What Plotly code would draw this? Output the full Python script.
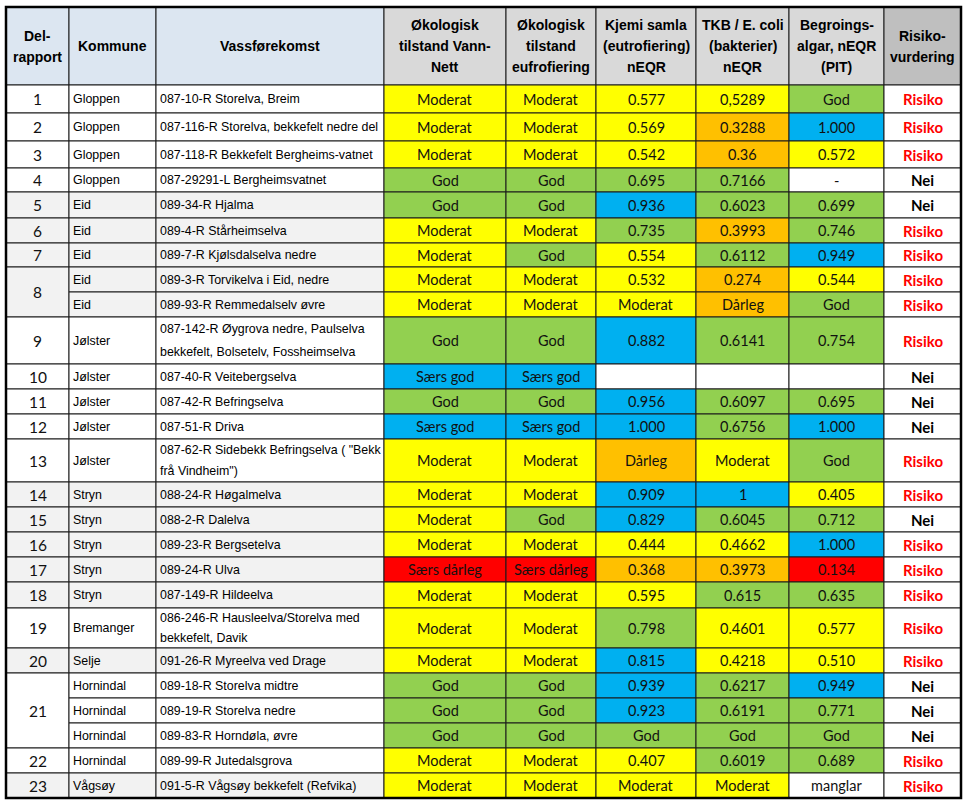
import plotly.graph_objects as go

# ---------------- data ----------------
headers = ["Del-\nrapport", "Kommune", "Vassførekomst",
           "Økologisk\ntilstand Vann-\nNett", "Økologisk\ntilstand\neufrofiering",
           "Kjemi samla\n(eutrofiering)\nnEQR", "TKB / E. coli\n(bakterier)\nnEQR",
           "Begroings-\nalgar, nEQR\n(PIT)", "Risiko-\nvurdering"]

delrapport = ["1", "2", "3", "4", "5", "6", "7", "8", "8", "9", "10", "11", "12", "13",
              "14", "15", "16", "17", "18", "19", "20", "21", "21", "21", "22", "23"]

kommune = ["Gloppen", "Gloppen", "Gloppen", "Gloppen", "Eid", "Eid", "Eid", "Eid", "Eid",
           "Jølster", "Jølster", "Jølster", "Jølster", "Jølster", "Stryn", "Stryn", "Stryn",
           "Stryn", "Stryn", "Bremanger", "Selje", "Hornindal", "Hornindal", "Hornindal",
           "Hornindal", "Vågsøy"]

vassforekomst = ["087-10-R Storelva, Breim",
                 "087-116-R Storelva, bekkefelt nedre del",
                 "087-118-R Bekkefelt Bergheims-vatnet",
                 "087-29291-L Bergheimsvatnet",
                 "089-34-R Hjalma",
                 "089-4-R Stårheimselva",
                 "089-7-R Kjølsdalselva nedre",
                 "089-3-R Torvikelva i Eid, nedre",
                 "089-93-R Remmedalselv øvre",
                 "087-142-R Øygrova nedre, Paulselva\nbekkefelt, Bolsetelv, Fossheimselva",
                 "087-40-R Veitebergselva",
                 "087-42-R Befringselva",
                 "087-51-R Driva",
                 "087-62-R Sidebekk Befringselva ( \"Bekk\nfrå Vindheim\")",
                 "088-24-R Høgalmelva",
                 "088-2-R Dalelva",
                 "089-23-R Bergsetelva",
                 "089-24-R Ulva",
                 "087-149-R Hildeelva",
                 "086-246-R Hausleelva/Storelva med\nbekkefelt, Davik",
                 "091-26-R Myreelva ved Drage",
                 "089-18-R Storelva midtre",
                 "089-19-R Storelva nedre",
                 "089-83-R Horndøla, øvre",
                 "089-99-R Jutedalsgrova",
                 "091-5-R Vågsøy bekkefelt (Refvika)"]

tilstand_vannnett = ["Moderat", "Moderat", "Moderat", "God", "God", "Moderat", "Moderat",
                     "Moderat", "Moderat", "God", "Særs god", "God", "Særs god", "Moderat",
                     "Moderat", "Moderat", "Moderat", "Særs dårleg", "Moderat", "Moderat",
                     "Moderat", "God", "God", "God", "Moderat", "Moderat"]

tilstand_eutro = ["Moderat", "Moderat", "Moderat", "God", "God", "Moderat", "God",
                  "Moderat", "Moderat", "God", "Særs god", "God", "Særs god", "Moderat",
                  "Moderat", "God", "Moderat", "Særs dårleg", "Moderat", "Moderat",
                  "Moderat", "God", "God", "God", "Moderat", "Moderat"]

kjemi = ["0.577", "0.569", "0.542", "0.695", "0.936", "0.735", "0.554", "0.532", "Moderat",
         "0.882", "", "0.956", "1.000", "Dårleg", "0.909", "0.829", "0.444", "0.368",
         "0.595", "0.798", "0.815", "0.939", "0.923", "God", "0.407", "Moderat"]

tkb = ["0,5289", "0.3288", "0.36", "0.7166", "0.6023", "0.3993", "0.6112", "0.274", "Dårleg",
       "0.6141", "", "0.6097", "0.6756", "Moderat", "1", "0.6045", "0.4662", "0.3973",
       "0.615", "0.4601", "0.4218", "0.6217", "0.6191", "God", "0.6019", "Moderat"]

begroing = ["God", "1.000", "0.572", "-", "0.699", "0.746", "0.949", "0.544", "God",
            "0.754", "", "0.695", "1.000", "God", "0.405", "0.712", "1.000", "0.134",
            "0.635", "0.577", "0.510", "0.949", "0.771", "God", "0.689", "manglar"]

risiko = ["Risiko", "Risiko", "Risiko", "Nei", "Nei", "Risiko", "Risiko", "Risiko", "Risiko",
          "Risiko", "Nei", "Nei", "Nei", "Risiko", "Risiko", "Nei", "Risiko", "Risiko",
          "Risiko", "Risiko", "Risiko", "Nei", "Nei", "Nei", "Risiko", "Risiko"]

# class codes per status column: Y=moderat, G=god, B=særs god, O=dårleg, R=særs dårleg, W=none
klasse_vannnett = ["Y","Y","Y","G","G","Y","Y","Y","Y","G","B","G","B","Y","Y","Y","Y","R","Y","Y","Y","G","G","G","Y","Y"]
klasse_eutro    = ["Y","Y","Y","G","G","Y","G","Y","Y","G","B","G","B","Y","Y","G","Y","R","Y","Y","Y","G","G","G","Y","Y"]
klasse_kjemi    = ["Y","Y","Y","G","B","G","Y","Y","Y","B","W","B","B","O","B","B","Y","O","Y","G","B","B","B","G","Y","Y"]
klasse_tkb      = ["Y","O","O","G","G","O","G","O","O","G","W","G","G","Y","B","G","Y","O","G","Y","Y","G","G","G","G","Y"]
klasse_begroing = ["G","B","Y","W","G","G","B","Y","G","G","W","G","B","G","Y","G","B","R","G","Y","Y","B","G","G","G","W"]

# kommune groups shaded light grey in the left columns
skuggelagt = [0,0,0,0,1,1,1,1,1,0,0,0,0,0,1,1,1,1,1,0,1,0,0,0,0,1]

# ---------------- layout constants ----------------
W, H = 970, 806
col_w = [63, 87, 228, 122, 90, 100, 93, 95, 77]
x0, y0 = 6, 7
header_h = 78
row_h = [28, 28, 27, 24, 26, 25, 24, 25, 25, 47, 25, 25, 25, 43, 25, 25, 25, 25, 26, 40,
         25, 25, 25, 25, 25, 25]

farge = {"Y": "#FFFF00", "G": "#92D050", "B": "#00B0F0", "O": "#FFC000",
         "R": "#FF0000", "W": "#FFFFFF"}
hdr_blue, hdr_grey, hdr_dark = "#DCE6F1", "#D9D9D9", "#BFBFBF"
grey_row = "#F2F2F2"
grid = "#1a1a1a"

col_x = [x0]
for w in col_w:
    col_x.append(col_x[-1] + w)
row_y = [y0 + header_h]
for h in row_h:
    row_y.append(row_y[-1] + h)

HDR_FONT = dict(family="Liberation Sans, Arial, sans-serif", size=14, color="#000000")
NARROW = dict(family="Liberation Sans, Arial, sans-serif", size=12.4, color="#000000")
CAL = dict(family="Lato, Carlito, Calibri, sans-serif", size=14.5, color="#111111")
RISK = dict(family="Lato, Carlito, Calibri, sans-serif", size=15, color="#000000")
NUM = dict(family="Lato, Carlito, Calibri, sans-serif", size=15.5, color="#111111")

shapes, annotations = [], []


def cell(xa, xb, ya, yb, fill):
    shapes.append(dict(type="rect", xref="x", yref="y", x0=xa, x1=xb, y0=ya, y1=yb,
                       fillcolor=fill, line=dict(color=grid, width=1), layer="below"))


def text(txt, xa, xb, ya, yb, font, align="center", bold=False, spacing=None):
    lines = txt.split("\n")
    n = len(lines)
    yc = (ya + yb) / 2
    for i, ln in enumerate(lines):
        if spacing is None:
            y = ya + (i + 0.5) * (yb - ya) / n
        else:
            y = yc + (i - (n - 1) / 2) * spacing
        s = "<b>%s</b>" % ln if bold else ln
        if align == "left":
            annotations.append(dict(x=xa + 2, y=y, xref="x", yref="y", text=s, showarrow=False,
                                    xanchor="left", yanchor="middle", font=font))
        else:
            annotations.append(dict(x=(xa + xb) / 2, y=y, xref="x", yref="y", text=s,
                                    showarrow=False, xanchor="center", yanchor="middle",
                                    font=font))


# header
for c, htxt in enumerate(headers):
    fill = hdr_blue if c < 3 else (hdr_dark if c == len(headers) - 1 else hdr_grey)
    cell(col_x[c], col_x[c + 1], y0, y0 + header_h, fill)
    text(htxt, col_x[c], col_x[c + 1], y0, y0 + header_h, HDR_FONT, bold=True, spacing=21)

# body
n = len(delrapport)
status_cols = [(tilstand_vannnett, klasse_vannnett), (tilstand_eutro, klasse_eutro),
               (kjemi, klasse_kjemi), (tkb, klasse_tkb), (begroing, klasse_begroing)]

# del-rapport column with merged cells
i = 0
while i < n:
    j = i
    while j + 1 < n and delrapport[j + 1] == delrapport[i]:
        j += 1
    fill = grey_row if skuggelagt[i] else "#FFFFFF"
    cell(col_x[0], col_x[1], row_y[i], row_y[j + 1], fill)
    text(delrapport[i], col_x[0], col_x[1], row_y[i], row_y[j + 1], NUM)
    i = j + 1

for r in range(n):
    ya, yb = row_y[r], row_y[r + 1]
    fill = grey_row if skuggelagt[r] else "#FFFFFF"
    cell(col_x[1], col_x[2], ya, yb, fill)
    text(kommune[r], col_x[1], col_x[2], ya, yb, NARROW, align="left", spacing=0)
    cell(col_x[2], col_x[3], ya, yb, fill)
    text(vassforekomst[r], col_x[2], col_x[3], ya, yb, NARROW, align="left")
    for k, (vals, kl) in enumerate(status_cols):
        c = 3 + k
        cell(col_x[c], col_x[c + 1], ya, yb, farge[kl[r]])
        if vals[r]:
            text(vals[r], col_x[c], col_x[c + 1], ya, yb, CAL)
    c = 8
    cell(col_x[c], col_x[c + 1], ya, yb, "#FFFFFF")
    rf = dict(RISK)
    rf["color"] = "#FF0000" if risiko[r] == "Risiko" else "#000000"
    text(risiko[r], col_x[c], col_x[c + 1], ya, yb, rf, bold=True)

# outer border
shapes.append(dict(type="rect", xref="x", yref="y", x0=col_x[0], x1=col_x[-1], y0=y0,
                   y1=row_y[-1], line=dict(color="#000000", width=2.5), layer="above"))

fig = go.Figure()
fig.add_trace(go.Scatter(x=[0, W], y=[0, H], mode="markers", marker=dict(opacity=0),
                         hoverinfo="skip", showlegend=False))
fig.update_layout(width=W, height=H, margin=dict(l=0, r=0, t=0, b=0),
                  paper_bgcolor="white", plot_bgcolor="white",
                  xaxis=dict(range=[0, W], visible=False, fixedrange=True),
                  yaxis=dict(range=[H, 0], visible=False, fixedrange=True),
                  shapes=shapes, annotations=annotations, showlegend=False)
fig.write_html("out.html", config={"displayModeBar": False},
               post_script="document.body.style.margin='0px';"
                           "document.body.style.overflow='hidden';")
